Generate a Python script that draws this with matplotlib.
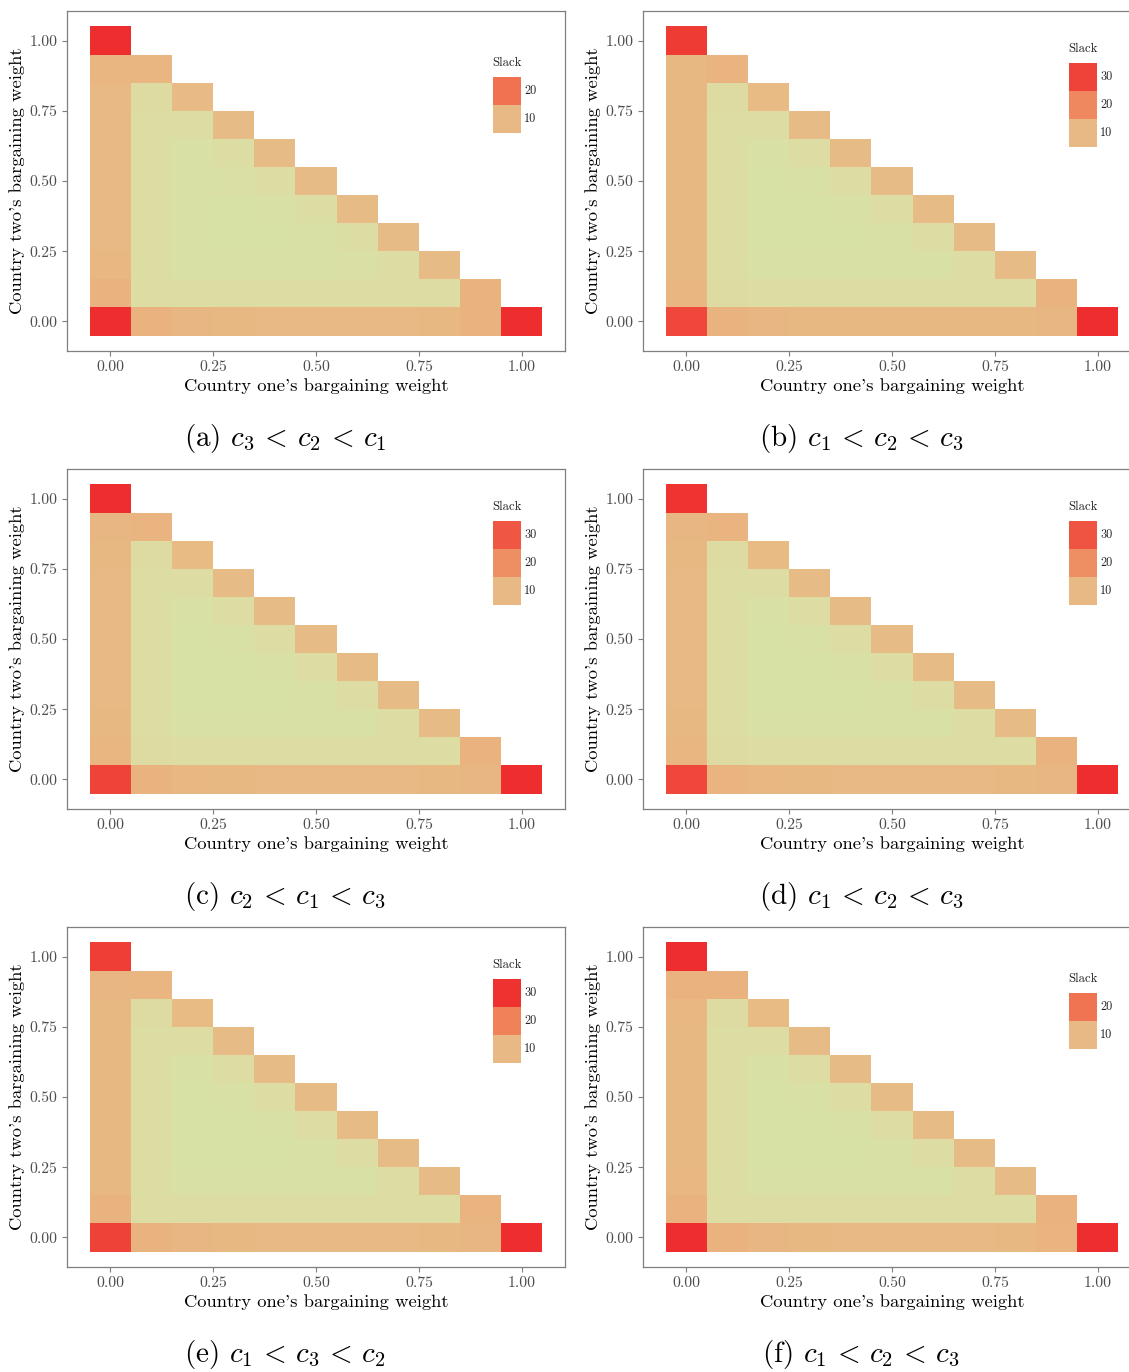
import numpy as np
import matplotlib
matplotlib.use("Agg")
import matplotlib.pyplot as plt
from matplotlib.colors import LinearSegmentedColormap, TwoSlopeNorm
from matplotlib.patches import Rectangle

plt.rcParams["font.family"] = ["cmr10", "DejaVu Serif"]
plt.rcParams["mathtext.fontset"] = "cm"
plt.rcParams["axes.formatter.use_mathtext"] = True

# Slack on the simplex grid of bargaining weights (step 0.1).
# Each list holds one row of constant y (country two's weight), from y = 0 upward;
# the entries run over x (country one's weight) from 0 while x + y <= 1.
slack_a = [
    [27.0, 11.0, 10.5, 10.2, 10.0, 10.0, 10.0, 10.0, 10.2, 10.8, 27.0],
    [11.0, 3.2, 3.0, 3.0, 3.0, 3.0, 3.0, 3.0, 3.2, 10.8],
    [10.3, 3.0, 2.0, 2.0, 1.8, 2.0, 2.2, 3.0, 9.6],
    [10.1, 3.0, 1.8, 1.5, 1.6, 2.0, 3.0, 9.6],
    [10.0, 3.0, 1.8, 1.6, 2.0, 3.0, 9.6],
    [10.0, 3.0, 2.0, 2.2, 3.0, 9.6],
    [10.0, 3.0, 2.0, 3.0, 9.6],
    [10.0, 3.0, 3.0, 9.6],
    [10.1, 3.5, 9.8],
    [10.6, 10.6],
    [27.0],
]
slack_b = [
    [29.5, 11.2, 10.6, 10.3, 10.2, 10.2, 10.2, 10.2, 10.3, 10.6, 33.0],
    [10.8, 3.5, 3.3, 3.3, 3.3, 3.3, 3.3, 3.3, 3.3, 11.2],
    [10.3, 3.0, 1.8, 2.0, 2.0, 1.8, 2.0, 3.2, 9.6],
    [10.2, 3.0, 1.6, 1.5, 1.6, 1.8, 3.4, 9.6],
    [10.2, 3.0, 1.6, 1.5, 1.8, 3.4, 9.6],
    [10.2, 3.0, 1.6, 1.8, 3.4, 9.6],
    [10.2, 3.0, 1.8, 3.3, 9.6],
    [10.2, 3.0, 3.1, 9.6],
    [10.2, 3.5, 9.7],
    [10.3, 11.0],
    [31.0],
]
slack_c = [
    [33.0, 11.3, 10.6, 10.3, 10.2, 10.2, 10.2, 10.2, 10.3, 10.7, 36.3],
    [11.0, 3.5, 3.3, 3.3, 3.3, 3.3, 3.3, 3.3, 3.3, 11.5],
    [10.3, 3.0, 1.8, 2.0, 2.0, 1.8, 2.0, 3.2, 9.6],
    [10.2, 3.0, 1.6, 1.5, 1.6, 1.8, 3.4, 9.6],
    [10.2, 3.0, 1.6, 1.5, 1.8, 3.4, 9.6],
    [10.2, 3.0, 1.6, 1.8, 3.4, 9.6],
    [10.2, 3.0, 1.8, 3.3, 9.6],
    [10.2, 3.0, 3.1, 9.6],
    [10.3, 3.5, 9.7],
    [10.8, 11.2],
    [36.5],
]
slack_d = [
    [32.0, 11.2, 10.6, 10.3, 10.2, 10.2, 10.2, 10.2, 10.3, 10.7, 36.0],
    [11.0, 3.5, 3.3, 3.3, 3.3, 3.3, 3.3, 3.3, 3.3, 11.4],
    [10.3, 3.0, 1.8, 2.0, 2.0, 1.8, 2.0, 3.2, 9.6],
    [10.2, 3.0, 1.6, 1.5, 1.6, 1.8, 3.4, 9.6],
    [10.2, 3.0, 1.6, 1.5, 1.8, 3.4, 9.6],
    [10.2, 3.0, 1.6, 1.8, 3.4, 9.6],
    [10.2, 3.0, 1.8, 3.3, 9.6],
    [10.2, 3.0, 3.1, 9.6],
    [10.3, 3.5, 9.7],
    [10.7, 11.1],
    [35.0],
]
slack_e = [
    [28.0, 11.0, 10.5, 10.2, 10.1, 10.1, 10.1, 10.1, 10.2, 10.6, 30.5],
    [11.0, 3.4, 3.2, 3.2, 3.2, 3.2, 3.2, 3.2, 3.2, 10.9],
    [10.3, 3.0, 1.8, 2.0, 2.0, 1.8, 2.0, 3.2, 9.6],
    [10.2, 3.0, 1.6, 1.5, 1.6, 1.8, 3.4, 9.6],
    [10.2, 3.0, 1.6, 1.5, 1.8, 3.4, 9.6],
    [10.2, 3.0, 1.6, 1.8, 3.4, 9.6],
    [10.2, 3.0, 1.8, 3.3, 9.6],
    [10.2, 3.0, 3.1, 9.6],
    [10.2, 3.5, 9.7],
    [10.5, 10.8],
    [28.5],
]
slack_f = [
    [27.5, 11.0, 10.5, 10.2, 10.1, 10.1, 10.1, 10.1, 10.2, 10.8, 27.5],
    [11.0, 3.4, 3.2, 3.2, 3.2, 3.2, 3.2, 3.2, 3.2, 11.0],
    [10.3, 3.0, 1.8, 2.0, 2.0, 1.8, 2.0, 3.2, 9.6],
    [10.2, 3.0, 1.6, 1.5, 1.6, 1.8, 3.4, 9.6],
    [10.2, 3.0, 1.6, 1.5, 1.8, 3.4, 9.6],
    [10.2, 3.0, 1.6, 1.8, 3.4, 9.6],
    [10.2, 3.0, 1.8, 3.3, 9.6],
    [10.2, 3.0, 3.1, 9.6],
    [10.3, 3.5, 9.7],
    [11.0, 11.0],
    [27.5],
]

panels = [slack_a, slack_b, slack_c, slack_d, slack_e, slack_f]
captions = [
    r"(a) $c_3\,<\,c_2\,<\,c_1$",
    r"(b) $c_1\,<\,c_2\,<\,c_3$",
    r"(c) $c_2\,<\,c_1\,<\,c_3$",
    r"(d) $c_1\,<\,c_2\,<\,c_3$",
    r"(e) $c_1\,<\,c_3\,<\,c_2$",
    r"(f) $c_1\,<\,c_2\,<\,c_3$",
]
weights = np.round(np.arange(11) * 0.1, 1)
tick_values = [0.0, 0.25, 0.5, 0.75, 1.0]
tick_labels = ["0.00", "0.25", "0.50", "0.75", "1.00"]
legend_breaks = [10, 20, 30]

cmap = LinearSegmentedColormap.from_list(
    "slack",
    [(0.0, "#d7e1a6"), (0.12, "#dedba2"), (0.5, "#e8b984"),
     (0.75, "#f08159"), (1.0, "#ee2e2e")],
)

W, H = 1129, 1372
fig = plt.figure(figsize=(W / 100, H / 100), dpi=100)

col_left = [67, 643]
row_top = [11, 469, 927]
ax_w, ax_h = 498, 340
cap_x = [285, 861]
cap_base = [446, 904, 1362]

edges = np.append(weights - 0.05, weights[-1] + 0.05)
grey = "#7f7f7f"

for k, rows in enumerate(panels):
    r, c = divmod(k, 2)
    ax = fig.add_axes([col_left[c] / W, 1 - (row_top[r] + ax_h) / H, ax_w / W, ax_h / H])

    Z = np.full((len(weights), len(weights)), np.nan)
    for j, row in enumerate(rows):
        Z[j, :len(row)] = row
    Zm = np.ma.masked_invalid(Z)
    norm = TwoSlopeNorm(vmin=np.nanmin(Z), vcenter=10, vmax=np.nanmax(Z))
    ax.pcolormesh(edges, edges, Zm, cmap=cmap, norm=norm, shading="flat",
                  linewidth=0, antialiased=False)

    ax.set_xlim(-0.105, 1.105)
    ax.set_ylim(-0.105, 1.105)
    ax.set_xticks(tick_values, tick_labels)
    ax.set_yticks(tick_values, tick_labels)
    ax.tick_params(axis="both", length=3.5, width=0.8, color=grey,
                   labelsize=11.3, labelcolor="#4d4d4d", pad=3.5)
    for s in ax.spines.values():
        s.set_color(grey)
        s.set_linewidth(0.9)
    ax.set_xlabel("Country one's bargaining weight", fontsize=13.4, labelpad=2.5)
    ax.set_ylabel("Country two's bargaining weight", fontsize=13.4, labelpad=3)

    # legend: one swatch per break inside the data range
    shown = [b for b in legend_breaks if np.nanmin(Z) <= b <= np.nanmax(Z)]
    sw_w, sw_h = 28 / ax_w, 28 / ax_h
    x0 = 426 / ax_w
    yc = 1 - 84 / ax_h
    total = len(shown) * sw_h
    ytop = yc + (total + 20 / ax_h) / 2
    ax.text(x0 - 1 / ax_w, ytop, "Slack", transform=ax.transAxes,
            fontsize=9.2, va="top", ha="left", color="#222222")
    ystart = ytop - 20 / ax_h
    for n, b in enumerate(sorted(shown, reverse=True)):
        yb = ystart - (n + 1) * sw_h
        ax.add_patch(Rectangle((x0, yb), sw_w, sw_h, transform=ax.transAxes,
                               facecolor=cmap(norm(b)), edgecolor="none",
                               clip_on=False))
        ax.text(x0 + sw_w + 3 / ax_w, yb + sw_h / 2, str(b), transform=ax.transAxes,
                fontsize=8.8, va="center", ha="left", color="#222222")

    fig.text(cap_x[c] / W, 1 - cap_base[r] / H, captions[k], fontsize=21,
             ha="center", va="baseline")

fig.savefig("out.png", dpi=100, facecolor="white")
